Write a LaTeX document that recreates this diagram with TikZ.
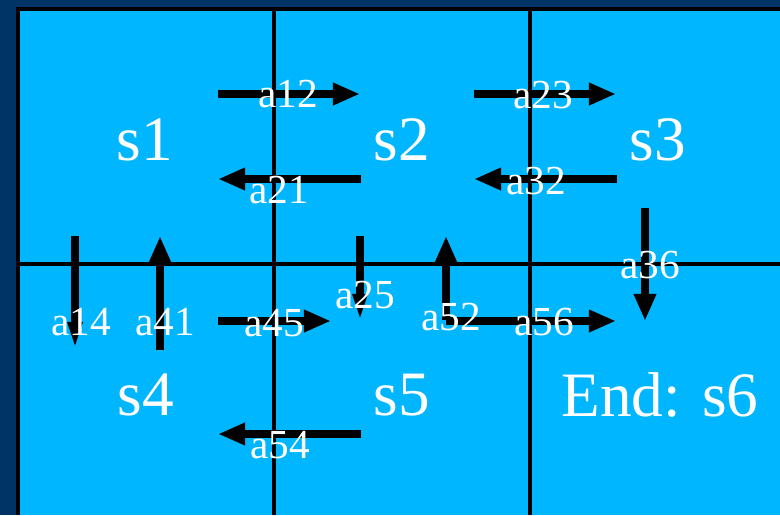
\documentclass[tikz,border=0pt]{standalone}
\usepackage{fontspec}
\setmainfont{Liberation Serif}
\usetikzlibrary{arrows.meta}
\definecolor{navy}{HTML}{003366}
\definecolor{skycyan}{HTML}{00B7FF}

\begin{document}
\begin{tikzpicture}[x=0.02cm, y=-0.02cm,
    state/.style={text=white, font=\fontsize{36}{36}\selectfont, inner sep=0pt},
    lbl/.style={text=white, font=\fontsize{23.5}{24}\selectfont, inner sep=0pt},
    grid/.style={draw=black, line width=2pt},
    trans/.style={line width=4.5pt, -{Triangle[length=15.5pt, width=12pt]}},
    slim/.style={line width=4.5pt, -{Triangle[length=16pt, width=7.5pt]}}]
  \useasboundingbox (0,0) rectangle (780,515);
  \fill[navy] (0,0) rectangle (780,515);
  \fill[skycyan] (18,9) rectangle (780,515);
  \draw[black, line width=2.3pt] (18,515) -- (18,9) -- (780,9);
  \draw[grid] (274,9) -- (274,515);
  \draw[grid] (530,9) -- (530,515);
  \draw[grid] (18,264) -- (780,264);

  % states
  \node[state] (s1) at (145,140) {s1};
  \node[state] (s2) at (402,140) {s2};
  \node[state] (s3) at (658,140) {s3};
  \node[state] (s4) at (146,395) {s4};
  \node[state] (s5) at (402,395) {s5};
  \node[state] (s6) at (660,395) {End: s6};

  % arrow ends
  \coordinate (a12s) at (218,94);  \coordinate (a12e) at (360,94);
  \coordinate (a23s) at (474,94);  \coordinate (a23e) at (616,94);
  \coordinate (a21s) at (361,179); \coordinate (a21e) at (218,179);
  \coordinate (a32s) at (617,179); \coordinate (a32e) at (474,179);
  \coordinate (a36s) at (645,208); \coordinate (a36e) at (645,321);
  \coordinate (a14s) at (75,236);  \coordinate (a14e) at (75,350);
  \coordinate (a41s) at (160,350); \coordinate (a41e) at (160,236);
  \coordinate (a45s) at (218,321); \coordinate (a45e) at (331,321);
  \coordinate (a25s) at (360,236); \coordinate (a25e) at (360,322);
  \coordinate (a52s) at (446,320); \coordinate (a52e) at (446,236);
  \coordinate (a56s) at (446,321); \coordinate (a56e) at (616,321);
  \coordinate (a54s) at (361,434); \coordinate (a54e) at (218,434);

  \draw[trans] (a12s) -- (a12e);
  \draw[trans] (a23s) -- (a23e);
  \draw[trans] (a21s) -- (a21e);
  \draw[trans] (a32s) -- (a32e);
  \draw[trans] (a36s) -- (a36e);
  \draw[slim] (a14s) -- (a14e);
  \draw[trans] (a41s) -- (a41e);
  \draw[trans] (a45s) -- (a45e);
  \draw[slim] (a25s) -- (a25e);
  \draw[trans] (a52s) -- (a52e);
  \draw[trans] (a56s) -- (a56e);
  \draw[trans] (a54s) -- (a54e);

  % labels
  \node[lbl] (l12) at (288,94)  {a12};
  \node[lbl] (l23) at (543,95)  {a23};
  \node[lbl] (l21) at (279,190) {a21};
  \node[lbl] (l32) at (536,181) {a32};
  \node[lbl] (l36) at (650,265) {a36};
  \node[lbl] (l14) at (81,322)  {a14};
  \node[lbl] (l41) at (165,322) {a41};
  \node[lbl] (l45) at (274,323) {a45};
  \node[lbl] (l25) at (365,295) {a25};
  \node[lbl] (l52) at (451,317) {a52};
  \node[lbl] (l56) at (544,322) {a56};
  \node[lbl] (l54) at (280,445) {a54};
\end{tikzpicture}
\end{document}
